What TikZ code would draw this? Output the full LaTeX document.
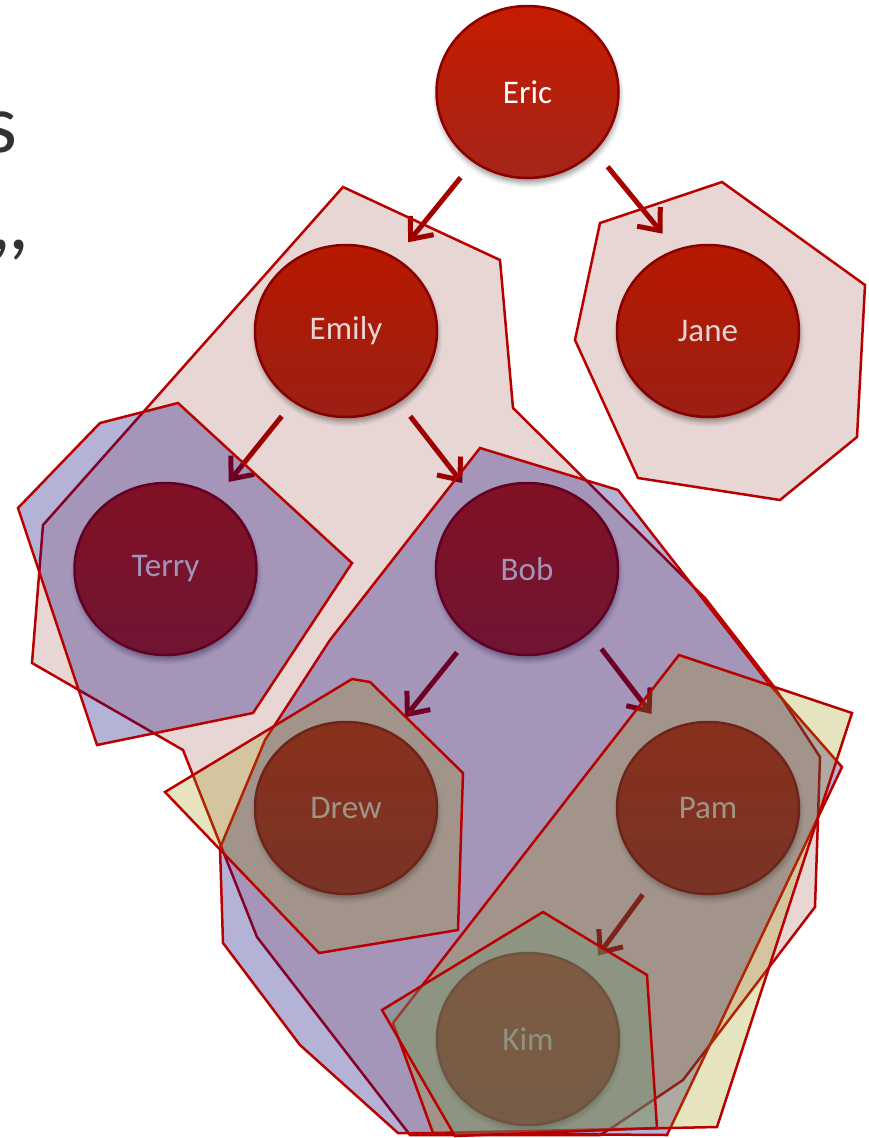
\documentclass[tikz,border=0pt]{standalone}
\usepackage{fontspec}
\setmainfont{Carlito}
\usetikzlibrary{arrows.meta,calc,shapes.geometric,shadows.blur}

\definecolor{nodetop}{RGB}{198,28,0}
\definecolor{nodebot}{RGB}{165,36,26}
\definecolor{nodeline}{RGB}{140,0,0}
\definecolor{arrcol}{RGB}{165,0,0}
\definecolor{polyline}{RGB}{185,0,0}
\definecolor{pinkfill}{RGB}{110,10,0}
\definecolor{bluefill}{RGB}{10,0,123}
\definecolor{yellowfill}{RGB}{155,145,0}
\definecolor{kimfill}{RGB}{114,150,119}
\definecolor{slidetext}{RGB}{50,50,50}

\tikzset{
  person/.style={ellipse, minimum width=182pt, minimum height=172pt, inner sep=0pt,
    draw=nodeline, line width=2.5pt, top color=nodetop, bottom color=nodebot,
    text=white, font=\fontsize{33}{36}\selectfont,
    blur shadow={shadow xshift=1pt, shadow yshift=-5pt, shadow blur radius=5pt, shadow opacity=40}},
  link/.style={draw=arrcol, line width=5pt, -{Straight Barb[length=18pt,width=30pt]}},
  hull/.style={draw=polyline, line width=2.5pt, line join=miter},
  pinkhull/.style={hull, fill=pinkfill, fill opacity=0.17},
  bluehull/.style={hull, fill=bluefill, fill opacity=0.30},
  yellowhull/.style={hull, fill=yellowfill, fill opacity=0.25},
  kimhull/.style={hull, fill=kimfill, fill opacity=0.42},
  fragment/.style={anchor=base east, inner sep=0pt, text=slidetext, font=\fontsize{84}{90}\selectfont}
}

\begin{document}
\begin{tikzpicture}[x=1pt,y=-1pt]
\useasboundingbox (0,0) rectangle (868,1138);

% cut-off slide text at the left edge
\node[fragment] (fragS) at (18,152) {s};
\node[fragment] (fragC) at (30,249) {,\kern-3pt,};

% people
\node[person] (Eric)  at (527.5,92) {Eric};
\node[person] (Emily) at (346,331) {Emily};
\node[person] (Jane)  at (708,331) {Jane};
\node[person] (Terry) at (165.5,569) {Terry};
\node[person] (Bob)   at (527,569) {Bob};
\node[person] (Drew)  at (346,808) {Drew};
\node[person] (Pam)   at (708,808) {Pam};
\node[person] (Kim)   at (528,1039) {Kim};

% parent -> child links
\draw[link] ($(Eric.center)!1.22!(Eric.-128)$) -- ($(Emily.center)!1.22!(Emily.55)$);
\draw[link] ($(Eric.center)!1.22!(Eric.-43)$) -- ($(Jane.center)!1.22!(Jane.115)$);
\draw[link] ($(Emily.center)!1.2!(Emily.-127)$) -- ($(Terry.center)!1.21!(Terry.54)$);
\draw[link] ($(Emily.center)!1.2!(Emily.-53)$) -- ($(Bob.center)!1.21!(Bob.127)$);
\draw[link] ($(Bob.center)!1.22!(Bob.-130)$) -- ($(Drew.center)!1.22!(Drew.57)$);
\draw[link] ($(Bob.center)!1.22!(Bob.-47)$) -- ($(Pam.center)!1.24!(Pam.121)$);
\draw[link] ($(Pam.center)!1.22!(Pam.-127)$) -- ($(Kim.center)!1.22!(Kim.50)$);

% descendant hulls
\path[pinkhull] (343,187) -- (500,260) -- (513,408) -- (705,598) -- (775,688)
  -- (820,757) -- (815,907) -- (683,1080) -- (613,1127) -- (600,1135) -- (410,1135)
  -- (257,937) -- (183,750) -- (32,663) -- (43,525) -- cycle;
\path[pinkhull] (600,223) -- (722,182) -- (865,285) -- (857,437) -- (780,500)
  -- (638,478) -- (575,340) -- cycle;
\path[bluehull] (100,423) -- (178,403) -- (352,563) -- (253,713) -- (97,745)
  -- (18,508) -- cycle;
\path[bluehull] (480,448) -- (618,490) -- (770,685) -- (842,767) -- (667,1135)
  -- (398,1133) -- (300,1045) -- (223,943) -- (220,848) -- (265,740) -- (330,640) -- cycle;
\path[yellowhull] (352,679) -- (370,682) -- (463,773) -- (458,930) -- (319,953)
  -- (165,792) -- cycle;
\path[yellowhull] (679,655) -- (852,713) -- (717,1127) -- (433,1133) -- (393,1023) -- cycle;
\path[kimhull] (543,912) -- (647,975) -- (657,1128) -- (455,1136) -- (382,1010) -- cycle;
\end{tikzpicture}
\end{document}
